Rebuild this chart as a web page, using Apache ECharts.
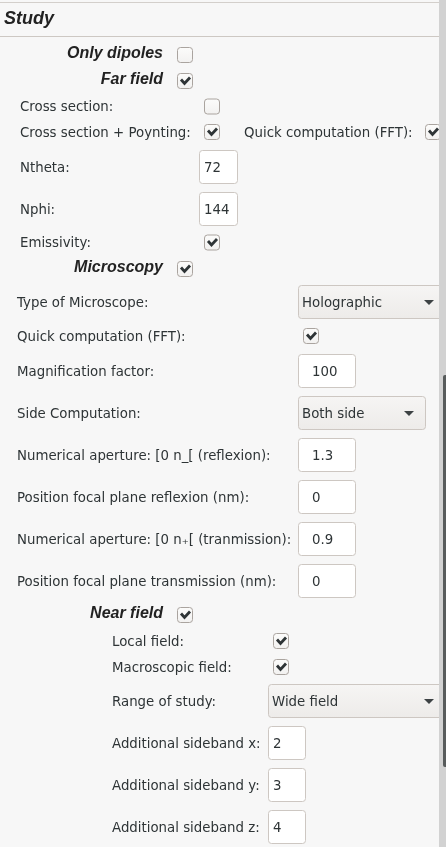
<!DOCTYPE html>
<html>
<head>
<meta charset="utf-8">
<script src="https://cdn.jsdelivr.net/npm/echarts@6/dist/echarts.min.js"></script>
<style>
  html, body { margin: 0; padding: 0; background: #f7f7f7; }
  #main { width: 446px; height: 847px; }
</style>
</head>
<body>
<div id="main"></div>
<script>
// 表单数据
var headings = ["Only dipoles", "Far field", "Microscopy", "Near field"];
var headingChecked = [false, true, true, true];

var farFieldLabels = ["Cross section:", "Cross section + Poynting:", "Quick computation (FFT):", "Ntheta:", "Nphi:", "Emissivity:"];
var farFieldValues = [false, true, true, 72, 144, true];

var microscopyLabels = [
  "Type of Microscope:",
  "Quick computation (FFT):",
  "Magnification factor:",
  "Side Computation:",
  "Numerical aperture: [0 n_[ (reflexion):",
  "Position focal plane reflexion (nm):",
  "Numerical aperture: [0 n\u208A[ (tranmission):",
  "Position focal plane transmission (nm):"
];
var microscopyValues = ["Holographic", true, 100, "Both side", 1.3, 0, 0.9, 0];

var nearFieldLabels = ["Local field:", "Macroscopic field:", "Range of study:", "Additional sideband x:", "Additional sideband y:", "Additional sideband z:"];
var nearFieldValues = [true, true, "Wide field", 2, 3, 4];

// 布局（行位置、控件位置）
var headingRowY = [55, 81, 269, 615];
var farFieldRowY = [106.5, 132, 132, 167, 209, 242.5];
var farFieldLabelX = [20, 20, 244, 20, 20, 20];
var farFieldCtrlX = [204, 204, 425, 199, 199, 204];
var microscopyRowY = [302, 336, 371, 413, 455, 497, 539, 581];
var nearFieldRowY = [641, 667, 701, 743, 785, 827];

var textColor = "#2e3436";
var labelFont = '13.33px "DejaVu Sans"';

var rows = [];
headings.forEach(function (h, i) {
  rows.push({ kind: "heading", label: h, value: headingChecked[i], lx: 163, cx: 177, y: headingRowY[i] });
});
farFieldLabels.forEach(function (l, i) {
  rows.push({ label: l, value: farFieldValues[i], lx: farFieldLabelX[i], cx: farFieldCtrlX[i], y: farFieldRowY[i], w: 38, pad: 5 });
});
microscopyLabels.forEach(function (l, i) {
  var v = microscopyValues[i];
  rows.push({ label: l, value: v, lx: 17, cx: typeof v === "boolean" ? 303 : 298, y: microscopyRowY[i],
    w: i === 0 ? 147 : (i === 3 ? 127 : 57), pad: 14 });
});
nearFieldLabels.forEach(function (l, i) {
  var v = nearFieldValues[i];
  rows.push({ label: l, value: v, lx: 112, cx: typeof v === "boolean" ? 273 : 268, y: nearFieldRowY[i],
    w: typeof v === "string" ? 177 : 37, pad: 5 });
});

function checkbox(x, y, checked) {
  var kids = [{
    type: "rect",
    shape: { x: x + 0.5, y: y - 7.5, width: 15, height: 15, r: 3 },
    style: {
      fill: new echarts.graphic.LinearGradient(0, 0, 0, 1, [
        { offset: 0, color: "#fcfcfb" }, { offset: 1, color: "#f2f1f0" }
      ]),
      stroke: "#aaa49f", lineWidth: 1
    }
  }];
  if (checked) {
    kids.push({
      type: "polyline",
      shape: { points: [[x + 4, y - 1.5], [x + 7.5, y + 2.5], [x + 13, y - 3.5]] },
      style: { stroke: "#2e3436", lineWidth: 2.8, fill: null, lineJoin: "miter" }
    });
  }
  return kids;
}

function renderRow(params, api) {
  var r = rows[api.value(2)];
  var p = api.coord([r.lx, r.y]);
  var c = api.coord([r.cx, r.y]);
  var kids = [];
  if (r.kind === "heading") {
    kids.push({
      type: "text",
      style: { text: r.label, x: p[0], y: p[1] - 1.5, textAlign: "right", textVerticalAlign: "middle",
        font: 'italic bold 16px "Liberation Sans"', fill: "#222" }
    });
    return { type: "group", children: kids.concat(checkbox(c[0], c[1], r.value)) };
  }
  kids.push({
    type: "text",
    style: { text: r.label, x: p[0], y: p[1] + 1.5, textAlign: "left", textVerticalAlign: "middle",
      font: labelFont, fill: textColor }
  });
  if (typeof r.value === "boolean") {
    kids = kids.concat(checkbox(c[0], c[1], r.value));
  } else if (typeof r.value === "number") {
    kids.push({
      type: "rect",
      shape: { x: c[0] + 0.5, y: c[1] - 16.5, width: r.w, height: 33, r: 3 },
      style: { fill: "#ffffff", stroke: "#cdc7c2", lineWidth: 1 }
    });
    kids.push({
      type: "text",
      style: { text: String(r.value), x: c[0] + r.pad, y: c[1] + 1.5, textVerticalAlign: "middle",
        font: labelFont, fill: textColor }
    });
  } else {
    var right = c[0] + r.w;
    kids.push({
      type: "rect",
      shape: { x: c[0] + 0.5, y: c[1] - 16.5, width: r.w, height: 33, r: 3 },
      style: {
        fill: new echarts.graphic.LinearGradient(0, 0, 0, 1, [
          { offset: 0, color: "#f6f5f4" }, { offset: 1, color: "#edebe9" }
        ]),
        stroke: "#cdc7c2", lineWidth: 1
      }
    });
    kids.push({
      type: "text",
      style: { text: r.value, x: c[0] + 4, y: c[1] + 1.5, textVerticalAlign: "middle",
        font: labelFont, fill: textColor }
    });
    kids.push({
      type: "polygon",
      shape: { points: [[right - 21, c[1] - 2], [right - 11, c[1] - 2], [right - 16, c[1] + 3]] },
      style: { fill: "#3d4244" }
    });
  }
  return { type: "group", children: kids };
}

var myChart = echarts.init(document.getElementById("main"), null, { renderer: "canvas" });

var option = {
  animation: false,
  backgroundColor: "#f7f7f7",
  grid: { left: 0, right: 0, top: 0, bottom: 0 },
  xAxis: { type: "value", min: 0, max: 446, show: false },
  yAxis: { type: "value", min: 0, max: 847, inverse: true, show: false },
  graphic: [
    { type: "line", shape: { x1: 0, y1: 2.5, x2: 439, y2: 2.5 }, style: { stroke: "#d3cfcb", lineWidth: 1 } },
    { type: "line", shape: { x1: 0, y1: 36.5, x2: 439, y2: 36.5 }, style: { stroke: "#cdc8c3", lineWidth: 1 } },
    {
      type: "text", left: 4, top: 10,
      style: { text: "Study", font: 'italic bold 18px "Liberation Sans"', fill: "#222" }
    },
    // 滚动条
    { type: "rect", z: 100, shape: { x: 439, y: 0, width: 7, height: 847 }, style: { fill: "#d2d2d2" } },
    { type: "rect", z: 101, shape: { x: 443, y: 375, width: 3, height: 392, r: [2, 0, 0, 2] }, style: { fill: "#585c5c" } }
  ],
  series: [
    {
      type: "custom",
      clip: false,
      renderItem: renderRow,
      data: rows.map(function (r, i) { return [r.cx, r.y, i]; })
    }
  ]
};

myChart.setOption(option);
window.onresize = function () {
  myChart.resize();
};
</script>
</body>
</html>
